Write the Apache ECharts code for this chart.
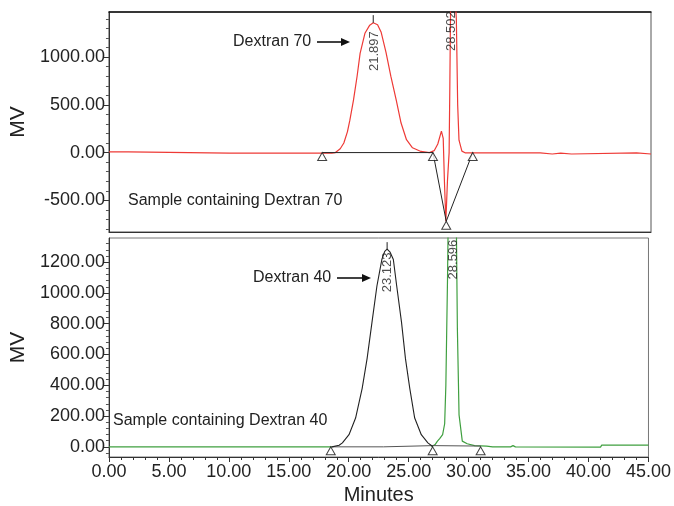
<!DOCTYPE html>
<html><head><meta charset="utf-8">
<script src="https://cdn.jsdelivr.net/npm/echarts@6/dist/echarts.min.js"></script>
<style>html,body{margin:0;padding:0;background:#fff}#c{width:674px;height:506px}</style>
</head><body><div id="c"></div>
<script>
// ---- axis ticks ----
const xTickValues = [0, 5, 10, 15, 20, 25, 30, 35, 40, 45];
const topYTicks = [-500, 0, 500, 1000];
const topYMinor = [-800, -700, -600, -400, -300, -200, -100, 100, 200, 300, 400, 600, 700, 800, 900, 1100, 1200, 1300, 1400];
const botYTicks = [0, 200, 400, 600, 800, 1000, 1200];
const botYMinor = [-40, 40, 80, 120, 160, 240, 280, 320, 360, 440, 480, 520, 560, 640, 680, 720, 760, 840, 880, 920, 960, 1040, 1080, 1120, 1160, 1240, 1280, 1320];

// ---- top panel: Sample containing Dextran 70 (red trace) ----
const dextran70Trace = [
  [0, 7], [1.6, 7], [1.7, -7], [10, -6], [18.5, -5], [18.8, 0], [19.2, 40], [19.5, 100],
  [19.8, 220], [20.0, 340], [20.3, 550], [20.6, 800], [20.85, 1040], [21.25, 1250],
  [21.65, 1335], [21.94, 1360], [22.3, 1340], [22.6, 1260], [23.0, 1050], [23.4, 800],
  [23.85, 550], [24.25, 310], [24.7, 135], [25.2, 50], [25.9, 12], [26.6, 0], [27.0, 20],
  [27.3, 90], [27.6, 225], [27.75, 150], [27.85, -300], [27.97, -720], [28.1, -300],
  [28.24, 0], [28.3, 700], [28.36, 1500], [28.5, 1750], [28.75, 1600], [28.84, 1400],
  [28.95, 500], [29.06, 130], [29.3, 15], [29.6, -4], [35.8, -4], [35.9, -15], [36.8, -15],
  [36.9, -5], [37.5, -5], [37.6, -15], [38.4, -15], [38.5, -4], [43.8, -4], [43.9, -15], [45, -15]
];
const dextran70Baseline = [[17.7, 0], [26.9, 0], [28.0, -720], [30.2, 0]];
const dextran70Markers = [[17.7, 0], [26.9, 0], [30.2, 0], [28.0, -720]];
const dextran70ApexTick = [[21.94, 1360], [21.94, 1440]];
const dextran70PeakLabels = [[22.0, 1063, '21.897'], [28.4, 1272, '28.502']];

// ---- bottom panel: Sample containing Dextran 40 ----
const dextran40Peak = [
  [18.6, 0], [19.2, 10], [19.47, 26], [20.02, 79], [20.57, 187], [21.12, 380], [21.53, 573],
  [21.94, 810], [22.35, 1045], [22.76, 1217], [23.0, 1270], [23.2, 1285], [23.45, 1265],
  [23.72, 1217], [24.0, 1045], [24.4, 810], [24.73, 573], [25.09, 380], [25.5, 187],
  [26.05, 79], [26.6, 26], [27.0, 2]
];
const greenTraceA = [[0, 0], [18.6, 0]];
const greenTraceB = [
  [26.9, 0], [27.2, 15], [27.4, 37], [27.6, 55], [27.83, 79], [28.0, 150], [28.1, 400],
  [28.24, 1100], [28.3, 1500], [28.6, 1750], [28.9, 1500], [28.98, 1400], [29.06, 770],
  [29.2, 208], [29.47, 37], [29.88, 20], [30.5, 8], [31.5, 5], [32.0, 0], [33.5, 0],
  [33.7, 8], [33.9, 0], [41.0, -2], [41.1, 11], [45, 11]
];
const dextran40Baseline = [[18.5, 0], [22.9, 0], [23.0, 8], [27.0, 8], [31.0, 5]];
const dextran40Markers = [[18.5, 0], [27.0, 0], [31.0, 0]];
const dextran40ApexTick = [[23.2, 1285], [23.2, 1330]];
const dextran40PeakLabels = [[23.25, 1134, '23.123'], [28.72, 1217, '28.596']];

const FONT = "'Liberation Sans', Arial, Helvetica, sans-serif";
const TXT = '#222';
const RED = '#ee3a36';
const GREEN = '#3f9f3f';

const chart = echarts.init(document.getElementById('c'), null, {renderer: 'canvas'});

function xAxisCfg(gridIndex, showLabels) {
  return {
    type: 'value', gridIndex, min: 0, max: 45, interval: 5,
    axisLine: {show: true, onZero: false, lineStyle: {color: '#333', width: 1}},
    axisTick: {show: showLabels, length: 5, lineStyle: {color: '#333'}},
    minorTick: {show: showLabels, splitNumber: 5, length: 3, lineStyle: {color: '#333'}},
    axisLabel: {show: showLabels, formatter: v => v.toFixed(2), fontSize: 18, color: TXT, fontFamily: FONT, margin: 6},
    splitLine: {show: false}, minorSplitLine: {show: false},
    name: showLabels ? 'Minutes' : '', nameLocation: 'middle', nameGap: 28,
    nameTextStyle: {fontSize: 20, color: TXT, fontFamily: FONT}
  };
}
function topBorderAxis(gridIndex, color, width) {
  return {
    type: 'value', gridIndex, min: 0, max: 45, position: 'top',
    axisLine: {show: true, onZero: false, lineStyle: {color, width}},
    axisTick: {show: false}, axisLabel: {show: false}, splitLine: {show: false}
  };
}
function yAxisMain(gridIndex, min, max, ticks) {
  return {
    type: 'value', gridIndex, min, max,
    axisLine: {show: true, onZero: false, lineStyle: {color: '#333'}},
    axisTick: {show: true, length: 5, customValues: ticks, lineStyle: {color: '#333'}},
    axisLabel: {show: true, customValues: ticks, formatter: v => v.toFixed(2), fontSize: 18, color: TXT, fontFamily: FONT, margin: 4},
    splitLine: {show: false},
    name: 'MV', nameLocation: 'middle', nameGap: 76, nameRotate: 90,
    nameTextStyle: {fontSize: 21, color: TXT, fontFamily: FONT}
  };
}
function yAxisMinor(gridIndex, min, max, ticks) {
  return {
    type: 'value', gridIndex, min, max, position: 'left',
    axisLine: {show: false},
    axisTick: {show: true, length: 3, customValues: ticks, lineStyle: {color: '#555'}},
    axisLabel: {show: false}, splitLine: {show: false}
  };
}

function lineSeries(xi, yi, data, color, width, z) {
  return {type: 'line', xAxisIndex: xi, yAxisIndex: yi, data, showSymbol: false, symbol: 'none',
    lineStyle: {color, width}, clip: true, z: z || 2, animation: false};
}
function markerSeries(xi, yi, data) {
  return {type: 'scatter', xAxisIndex: xi, yAxisIndex: yi, data, symbol: 'triangle',
    symbolSize: [9, 8], symbolOffset: [0, 4],
    itemStyle: {color: '#fff', borderColor: '#111', borderWidth: 1}, z: 5, animation: false, clip: false};
}
function labelSeries(xi, yi, data) {
  return {type: 'scatter', xAxisIndex: xi, yAxisIndex: yi, data, symbolSize: 0, z: 6, animation: false,
    label: {show: true, position: 'inside', rotate: 90, formatter: p => p.data[2],
      fontSize: 13, color: TXT, fontFamily: FONT}};
}

chart.setOption({
  animation: false,
  backgroundColor: '#fff',
  grid: [
    {left: 103, top: 12, width: 548, height: 220, show: true, borderColor: '#555', borderWidth: 1, backgroundColor: 'transparent'},
    {left: 103, top: 238, width: 548, height: 221, show: true, borderColor: '#777', borderWidth: 1, backgroundColor: 'transparent'}
  ],
  xAxis: [xAxisCfg(0, false), xAxisCfg(1, true), topBorderAxis(0, '#111', 1.5)],
  yAxis: [
    yAxisMain(0, -832, 1473, topYTicks),
    yAxisMinor(0, -832, 1473, topYMinor),
    yAxisMain(1, -66, 1357, botYTicks),
    yAxisMinor(1, -66, 1357, botYMinor)
  ],
  series: [
    lineSeries(0, 0, dextran70Trace, RED, 1.2, 2),
    lineSeries(0, 0, dextran70Baseline, '#222', 1, 3),
    lineSeries(0, 0, dextran70ApexTick, '#222', 1, 3),
    markerSeries(0, 0, dextran70Markers),
    labelSeries(0, 0, dextran70PeakLabels),
    lineSeries(1, 2, greenTraceA, GREEN, 1.2, 2),
    lineSeries(1, 2, greenTraceB, GREEN, 1.2, 2),
    lineSeries(1, 2, dextran40Baseline, '#555', 1, 3),
    lineSeries(1, 2, dextran40Peak, '#222', 1.1, 4),
    lineSeries(1, 2, dextran40ApexTick, '#222', 1, 4),
    markerSeries(1, 2, dextran40Markers),
    labelSeries(1, 2, dextran40PeakLabels)
  ],
  graphic: [
    {type: 'text', style: {text: 'Dextran 70', x: 233, y: 42, fontSize: 16, fontFamily: FONT, fill: TXT, verticalAlign: 'middle'}},
    {type: 'line', shape: {x1: 317, y1: 42, x2: 343, y2: 42}, style: {stroke: '#111', lineWidth: 1.6}},
    {type: 'polygon', shape: {points: [[350, 42], [341, 38], [341, 46]]}, style: {fill: '#111'}},
    {type: 'text', style: {text: 'Sample containing Dextran 70', x: 128, y: 201, fontSize: 16, fontFamily: FONT, fill: TXT, verticalAlign: 'middle'}},
    {type: 'text', style: {text: 'Dextran 40', x: 253, y: 278, fontSize: 16, fontFamily: FONT, fill: TXT, verticalAlign: 'middle'}},
    {type: 'line', shape: {x1: 337, y1: 278, x2: 364, y2: 278}, style: {stroke: '#111', lineWidth: 1.6}},
    {type: 'polygon', shape: {points: [[371, 278], [362, 274], [362, 282]]}, style: {fill: '#111'}},
    {type: 'text', style: {text: 'Sample containing Dextran 40', x: 113, y: 421, fontSize: 16, fontFamily: FONT, fill: TXT, verticalAlign: 'middle'}}
  ]
});
</script>
</body></html>
